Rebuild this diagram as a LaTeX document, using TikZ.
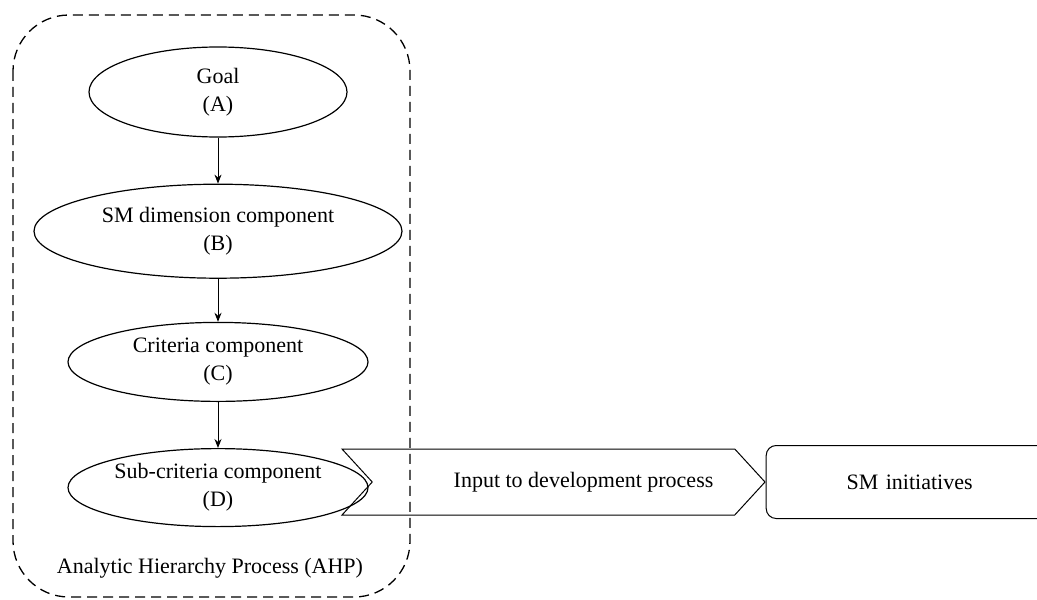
\documentclass[tikz,border=0pt]{standalone}
\usepackage{fontspec}
\setmainfont{Liberation Serif}
\usepackage{tikz}
\usetikzlibrary{arrows.meta,
positioning,
shapes.geometric,
shapes.symbols}

\begin{document}
\begin{tikzpicture}[
				x=1pt, y=1pt,
				font=\rmfamily\fontsize{11}{14}\selectfont,
				level/.style={
					draw,
					ellipse,
					inner sep=0pt,
					align=center,
					line width=0.6pt
				},
				flow/.style={
					-{Stealth[length=4.5pt,width=3.5pt]},
					line width=0.5pt
				}
				]
				\useasboundingbox (0,0) rectangle (518.5,-299.5);
				% AHP hierarchy
				\node[level, minimum width=129pt, minimum height=45pt] (goal) at (109,-46) {Goal\\(A)};
				\node[level, minimum width=184pt, minimum height=47pt, below=23pt of goal] (dimension) {SM dimension component\\(B)};
				\node[level, minimum width=150pt, minimum height=39.5pt, below=21.5pt of dimension] (criteria) {Criteria component\\(C)};
				\node[level, minimum width=150pt, minimum height=39pt, below=23pt of criteria] (subcriteria) {Sub-criteria component\\(D)};
				
				\draw[flow] (goal) -- (dimension);
				\draw[flow] (dimension) -- (criteria);
				\draw[flow] (criteria) -- (subcriteria);
				
				% AHP frame
				\draw[line width=0.65pt, dash pattern=on 5pt off 3pt, rounded corners=28pt] (6.5,-7.5) rectangle (205,-298.5);
				\node (ahp) at (105,-284) {Analytic Hierarchy Process (AHP)};
				
				% output
				\node[draw, signal, signal from=west, signal to=east, signal pointer angle=95,
					minimum width=211.5pt, minimum height=33pt, inner sep=0pt, line width=0.5pt,
					label={[xshift=15pt]center:Input to development process}] (input) at (276.75,-241) {};
				\node[draw, rounded corners=5pt, minimum width=143.5pt, minimum height=36.5pt,
					line width=0.5pt, right=0pt of input, text width=115pt, align=center] (initiatives) {SM initiatives};
			\end{tikzpicture}
\end{document}
